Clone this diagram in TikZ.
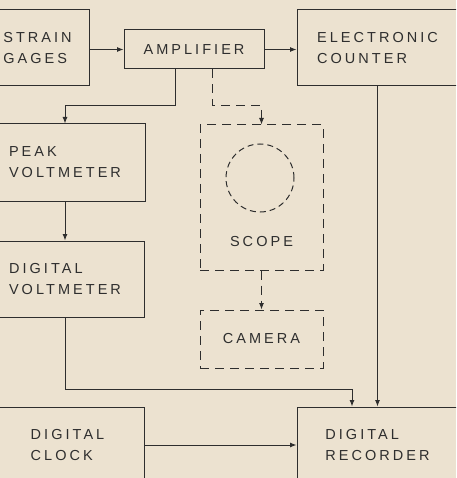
\documentclass[tikz,border=0pt]{standalone}
\usepackage{fontspec}
\newfontfamily\lblfont{Liberation Sans}[LetterSpace=21]
\usetikzlibrary{arrows.meta,positioning}
\definecolor{paper}{HTML}{ECE2D0}
\definecolor{ink}{HTML}{2E2E2E}

\begin{document}
\begin{tikzpicture}[x=1pt, y=-1pt,
  blk/.style={draw=ink, line width=1pt, align=left, inner xsep=0pt,
              font=\lblfont\fontsize{14.5}{21}\selectfont, text=ink},
  dblk/.style={blk, align=center, dash pattern=on 9pt off 6pt},
  arr/.style={draw=ink, line width=1pt, -{Latex[length=6.5pt,width=5pt]}},
  darr/.style={arr, dash pattern=on 9pt off 6pt}
]
\fill[paper] (0,0) rectangle (456,478);
\useasboundingbox (0,0) rectangle (456,478);
\clip (0,0) rectangle (456,478);

% top row
\node[blk, minimum width=103pt, minimum height=76pt] (sg) at (37.5,48) {STRAIN\\GAGES};
\node[blk, minimum width=140pt, minimum height=39pt] (amp) at (194,49.5) {AMPLIFIER};
\node[blk, minimum width=161pt, minimum height=76pt] (ctr) at (377.5,48) {ELECTRONIC\\COUNTER};
\draw[arr] (sg.east |- amp.west) -- (amp.west);
\draw[arr] (amp.east) -- (amp.east -| ctr.west);

% voltmeters
\node[blk, minimum width=160pt, minimum height=77pt] (pk) at (65,162.5) {PEAK\\VOLTMETER};
\node[blk, minimum width=158pt, minimum height=76pt, below=39pt of pk] (dv) {DIGITAL\\VOLTMETER};
\draw[arr] ([xshift=-19pt]amp.south) -- ++(0,-36pt) -| (pk.north);
\draw[arr] (pk.south) -- (dv.north);

% scope and camera
\node[dblk, minimum width=123pt, inner ysep=0pt, text height=121pt, text depth=24pt] (scope) at (261.5,197.5) {SCOPE};
\node[draw=ink, line width=1pt, dash pattern=on 6pt off 4pt, circle, minimum size=68pt] (screen) at (260,178) {};
\node[dblk, minimum width=123pt, minimum height=58pt, below=39pt of scope] (cam) {CAMERA};
\draw[darr] ([xshift=18pt]amp.south) -- ++(0,-36pt) -| (scope.north);
\draw[darr] (scope.south) -- (cam.north);

% bottom row
\node[blk, minimum width=153pt, minimum height=76pt] (clk) at (67.5,445) {DIGITAL\\CLOCK};
\node[blk, minimum width=161pt, minimum height=76pt] (rec) at (377.5,445) {DIGITAL\\RECORDER};
\draw[arr] (dv.south) -- ++(0,-72pt) -| ([xshift=-25.5pt]rec.north);
\draw[arr] (ctr.south) -- (rec.north);
\draw[arr] (clk.east |- rec.west) -- (rec.west);
\end{tikzpicture}
\end{document}
